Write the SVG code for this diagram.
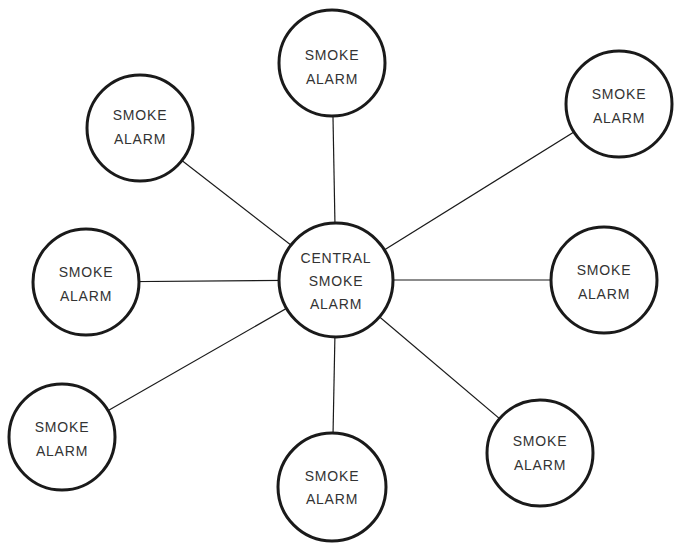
<svg xmlns="http://www.w3.org/2000/svg" width="674" height="544" viewBox="0 0 674 544">
<style>
.c{fill:#fff;stroke:#1a1a1a;stroke-width:3}
.l{stroke:#1a1a1a;stroke-width:1.2;fill:none}
text{font-family:"Liberation Sans",Arial,sans-serif;font-size:14px;letter-spacing:0.8px;fill:#333;text-anchor:middle;dominant-baseline:central}
</style>
<rect width="674" height="544" fill="#fff"/>
<g id="connectors">
<line class="l" x1="336" y1="280" x2="332" y2="63"/>
<line class="l" x1="336" y1="280" x2="140" y2="128"/>
<line class="l" x1="336" y1="280" x2="619" y2="104"/>
<line class="l" x1="336" y1="280" x2="86" y2="282"/>
<line class="l" x1="336" y1="280" x2="604" y2="280"/>
<line class="l" x1="336" y1="280" x2="62" y2="437"/>
<line class="l" x1="336" y1="280" x2="332" y2="487"/>
<line class="l" x1="336" y1="280" x2="540" y2="453"/>
</g>
<g id="center"><circle class="c" cx="336" cy="280" r="57"/><text x="336" y="258">CENTRAL</text><text x="336" y="281">SMOKE</text><text x="336" y="304">ALARM</text></g>
<g id="n-top"><circle class="c" cx="332" cy="63" r="53"/><text x="332" y="55">SMOKE</text><text x="332" y="79">ALARM</text></g>
<g id="n-topleft"><circle class="c" cx="140" cy="128" r="53"/><text x="140" y="115">SMOKE</text><text x="140" y="139">ALARM</text></g>
<g id="n-topright"><circle class="c" cx="619" cy="104" r="53"/><text x="619" y="94">SMOKE</text><text x="619" y="118">ALARM</text></g>
<g id="n-left"><circle class="c" cx="86" cy="282" r="53"/><text x="86" y="272">SMOKE</text><text x="86" y="296">ALARM</text></g>
<g id="n-right"><circle class="c" cx="604" cy="280" r="53"/><text x="604" y="270">SMOKE</text><text x="604" y="294">ALARM</text></g>
<g id="n-bottomleft"><circle class="c" cx="62" cy="437" r="53"/><text x="62" y="427">SMOKE</text><text x="62" y="451">ALARM</text></g>
<g id="n-bottom"><circle class="c" cx="332" cy="487" r="54"/><text x="332" y="476">SMOKE</text><text x="332" y="499">ALARM</text></g>
<g id="n-bottomright"><circle class="c" cx="540" cy="453" r="53"/><text x="540" y="441">SMOKE</text><text x="540" y="465">ALARM</text></g>
</svg>
